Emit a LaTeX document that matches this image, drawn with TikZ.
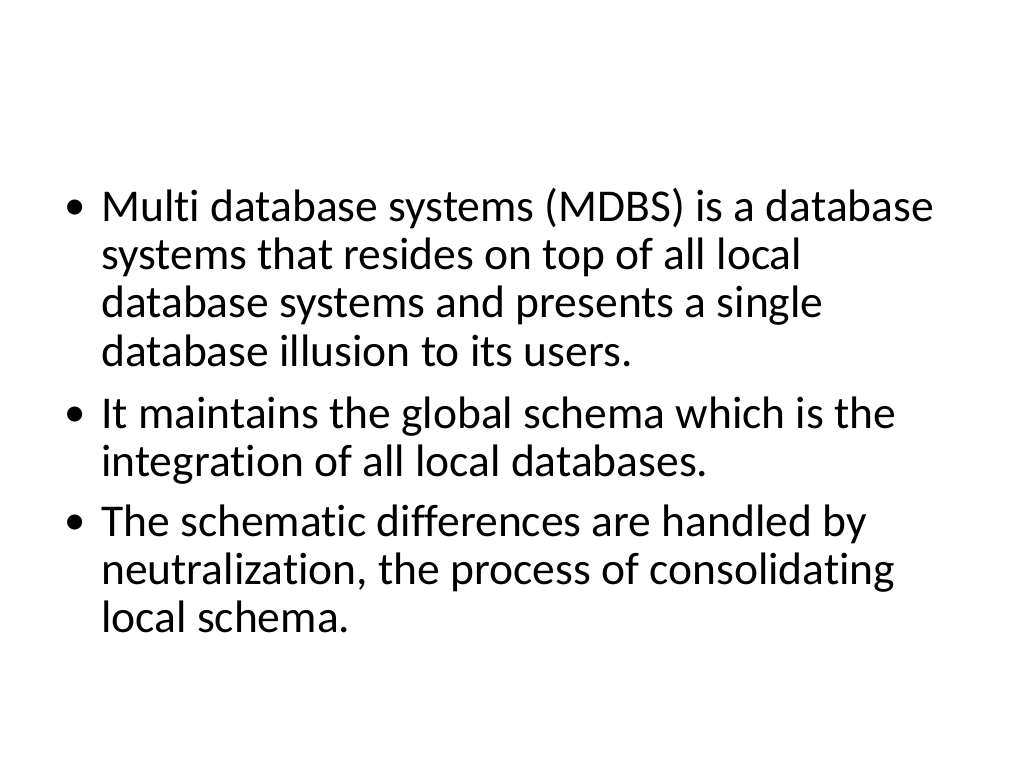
\documentclass[tikz,border=0pt]{standalone}
\usepackage{fontspec}
\setmainfont[Ligatures=NoCommon]{Carlito}
\usetikzlibrary{positioning}

\tikzset{
  line/.style={anchor=base west, inner sep=0pt, font=\fontsize{32}{38}\selectfont},
  dot/.style={anchor=base, inner sep=0pt, font=\fontsize{30}{38}\selectfont}
}

\begin{document}
\begin{tikzpicture}[x=0.703125pt, y=-0.703125pt]
  \useasboundingbox (0,0) rectangle (1024,768);
  % first bullet
  \node[dot] (dotA) at (75,220) {•};
  \node[line] (a1) at (101,222) {Multi database systems (MDBS) is a database};
  \node[line] (a2) at (101,270) {systems that resides on top of all local};
  \node[line] (a3) at (101,318) {database systems and presents a single};
  \node[line] (a4) at (101,366) {database illusion to its users.};
  % second bullet
  \node[dot] (dotB) at (75,426) {•};
  \node[line] (b1) at (101,428) {It maintains the global schema which is the};
  \node[line] (b2) at (101,476) {integration of all local databases.};
  % third bullet
  \node[dot] (dotC) at (75,534) {•};
  \node[line] (c1) at (101,536) {The schematic differences are handled by};
  \node[line] (c2) at (101,584) {neutralization, the process of consolidating};
  \node[line] (c3) at (101,632) {local schema.};
\end{tikzpicture}
\end{document}
